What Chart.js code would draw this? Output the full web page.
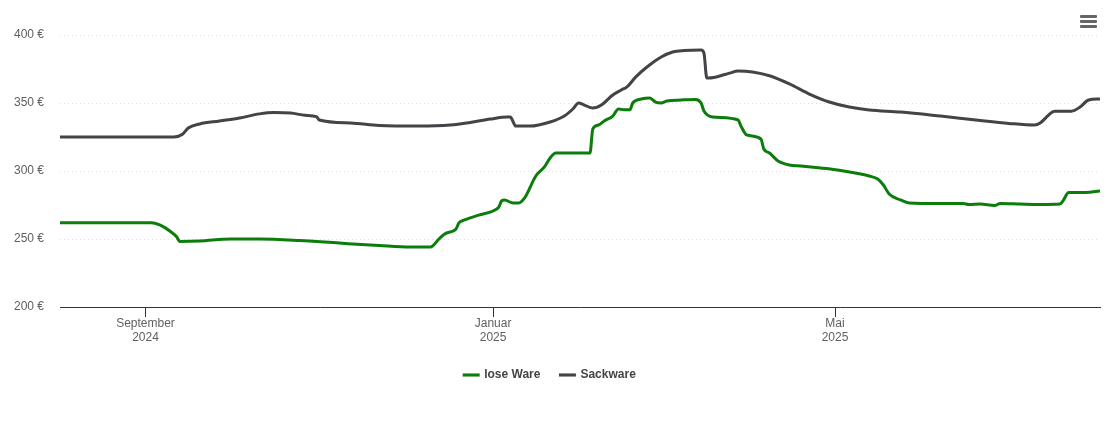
<!DOCTYPE html>
<html>
<head>
<meta charset="utf-8">
<script src="https://cdn.jsdelivr.net/npm/chart.js@4.4.1/dist/chart.umd.min.js"></script>
<style>
  html, body { margin: 0; padding: 0; background: #fff; }
  #wrap { position: relative; width: 1110px; height: 423px; }
  #menu { position: absolute; left: 1080px; top: 15px; width: 17px; }
  #menu div { height: 3px; background: #666; margin-bottom: 2px; border-radius: 1px; }
</style>
</head>
<body>
<div id="wrap">
  <canvas id="chart" width="1110" height="423"></canvas>
  <div id="menu"><div></div><div></div><div></div></div>
</div>
<script>
// ---- Data ----
const startDate = '2024-08-02';
const endDate = '2025-08-02';

const loseDates = ['2024-08-02','2024-09-03','2024-09-06','2024-09-10','2024-09-12','2024-09-13','2024-09-20',
  '2024-10-01','2024-10-11','2024-10-25','2024-11-08','2024-11-22','2024-12-03','2024-12-10','2024-12-13',
  '2024-12-15','2024-12-18','2024-12-19','2024-12-20','2024-12-22','2024-12-27','2025-01-01','2025-01-03',
  '2025-01-04','2025-01-05','2025-01-08','2025-01-10','2025-01-12','2025-01-16','2025-01-19','2025-01-21',
  '2025-01-23','2025-02-04','2025-02-05','2025-02-07','2025-02-09','2025-02-12','2025-02-14','2025-02-16',
  '2025-02-18','2025-02-19','2025-02-22','2025-02-25','2025-02-27','2025-03-01','2025-03-03','2025-03-08',
  '2025-03-13','2025-03-15','2025-03-16','2025-03-19','2025-03-28','2025-03-29','2025-03-31','2025-04-05',
  '2025-04-06','2025-04-08','2025-04-11','2025-04-15','2025-04-19','2025-04-26','2025-05-03','2025-05-10',
  '2025-05-13','2025-05-16','2025-05-18','2025-05-20','2025-05-24','2025-05-27','2025-06-07','2025-06-15',
  '2025-06-17','2025-06-21','2025-06-26','2025-06-28','2025-07-05','2025-07-12','2025-07-19','2025-07-20',
  '2025-07-22','2025-07-28','2025-08-02'];
const loseValues = [262, 262, 260.3, 255.1, 251.5, 248.2, 248.5,
  250, 250, 248.9, 247, 245.2, 244.1, 244.1, 250,
  253.7, 255.9, 257.4, 261.8, 264, 267.6, 270.6, 273.5,
  278, 278.7, 276.5, 276.5, 280, 296.3, 303, 309.6,
  313.2, 313.2, 331, 333.8, 336.8, 340.4, 345.6, 345,
  345, 350, 352.9, 353.7, 350.7, 350, 351.5, 352.2,
  352.6, 350, 344.1, 339.7, 337.5, 333, 326.5, 323.5,
  316.2, 313.2, 307.4, 304.4, 303.7, 302.2, 300.4, 297.8,
  296.3, 294.1, 289.7, 283.1, 278.7, 276.5, 276.1, 276.1,
  275.4, 275.7, 274.6, 276.1, 275.7, 275.4, 275.7, 278,
  284.2, 284.2, 285.3];

const sackDates = ['2024-08-02','2024-09-11','2024-09-14','2024-09-16','2024-09-20','2024-09-27','2024-10-04',
  '2024-10-11','2024-10-16','2024-10-22','2024-10-27','2024-10-31','2024-11-01','2024-11-12','2024-11-22',
  '2024-12-06','2024-12-17','2024-12-24','2024-12-31','2025-01-06','2025-01-07','2025-01-09','2025-01-14',
  '2025-01-21','2025-01-26','2025-01-29','2025-01-31','2025-02-02','2025-02-05','2025-02-08','2025-02-12',
  '2025-02-15','2025-02-17','2025-02-20','2025-02-24','2025-03-01','2025-03-05','2025-03-09','2025-03-15',
  '2025-03-16','2025-03-17','2025-03-20','2025-03-25','2025-03-28','2025-04-02','2025-04-08','2025-04-15',
  '2025-04-22','2025-04-29','2025-05-06','2025-05-13','2025-05-24','2025-06-07','2025-06-21','2025-07-01',
  '2025-07-10','2025-07-12','2025-07-15','2025-07-17','2025-07-23','2025-07-26','2025-07-29','2025-08-02'];
const sackValues = [325, 325, 327, 331.6, 334.6, 336.8, 339,
  342, 343, 342.6, 341, 340, 337.5, 335.3, 333.5,
  333, 333.8, 335.7, 338.2, 339.7, 339.7, 333, 333,
  336, 340.4, 345.6, 350, 348.5, 346.3, 348.5, 355.9,
  359.6, 361.8, 369, 376.5, 383.8, 387.5, 388.6, 389,
  386.8, 368.4, 369, 372, 373.5, 372.8, 370, 364,
  356.6, 350.7, 347, 344.9, 343.4, 340.4, 337.1, 335,
  333.8, 335.3, 341.2, 344, 344, 347, 352.2, 353];

const tickDates = ['2024-09-01', '2025-01-01', '2025-05-01'];
const tickLabels = [['September', '2024'], ['Januar', '2025'], ['Mai', '2025']];
const yTicks = [200, 250, 300, 350, 400];

// ---- Helpers ----
function dayNum(s) {
  const [y, m, d] = s.split('-').map(Number);
  const [y0, m0, d0] = startDate.split('-').map(Number);
  return (Date.UTC(y, m - 1, d) - Date.UTC(y0, m0 - 1, d0)) / 86400000;
}
function toPoints(dates, values) {
  return dates.map((d, i) => ({ x: dayNum(d), y: values[i] }));
}
const tickDays = tickDates.map(dayNum);

// ---- Chart ----
const ctx = document.getElementById('chart').getContext('2d');
const fontFamily = '"Liberation Sans Narrow", "Liberation Sans", sans-serif';

new Chart(ctx, {
  type: 'line',
  data: {
    datasets: [{
      label: 'lose Ware',
      data: toPoints(loseDates, loseValues),
      borderColor: '#0b7d0b',
      backgroundColor: '#0b7d0b',
      borderWidth: 3,
      pointRadius: 0,
      cubicInterpolationMode: 'monotone'
    }, {
      label: 'Sackware',
      data: toPoints(sackDates, sackValues),
      borderColor: '#434348',
      backgroundColor: '#434348',
      borderWidth: 3,
      pointRadius: 0,
      cubicInterpolationMode: 'monotone'
    }]
  },
  options: {
    responsive: false,
    animation: false,
    layout: { padding: { top: 35, right: 10, left: 0, bottom: 32 } },
    scales: {
      x: {
        type: 'linear',
        min: dayNum(startDate),
        max: dayNum(endDate),
        afterBuildTicks: axis => { axis.ticks = tickDays.map(v => ({ value: v })); },
        afterFit: axis => { axis.height = 42; },
        ticks: {
          autoSkip: false,
          maxRotation: 0,
          padding: 0,
          color: '#606060',
          font: { family: fontFamily, size: 12, lineHeight: 1.15 },
          callback: (v) => tickLabels[tickDays.indexOf(v)]
        },
        grid: { drawOnChartArea: false, tickLength: 10, color: '#333', lineWidth: 1 },
        border: { color: '#333', width: 1 }
      },
      y: {
        min: 200, max: 400,
        afterBuildTicks: axis => { axis.ticks = yTicks.map(v => ({ value: v })); },
        afterFit: axis => { axis.width = 60; },
        ticks: {
          padding: 16,
          color: '#606060',
          font: { family: fontFamily, size: 12 },
          callback: v => v + ' €'
        },
        grid: { color: '#e0e0e0', lineWidth: 1, drawTicks: false },
        border: { display: false, dash: [1, 3] }
      }
    },
    plugins: {
      legend: {
        position: 'bottom',
        labels: {
          boxWidth: 14,
          boxHeight: 0.1,
          padding: 20,
          color: '#444',
          font: { family: fontFamily, size: 12, weight: 'bold' }
        }
      },
      tooltip: { enabled: false }
    }
  }
});
</script>
</body>
</html>
